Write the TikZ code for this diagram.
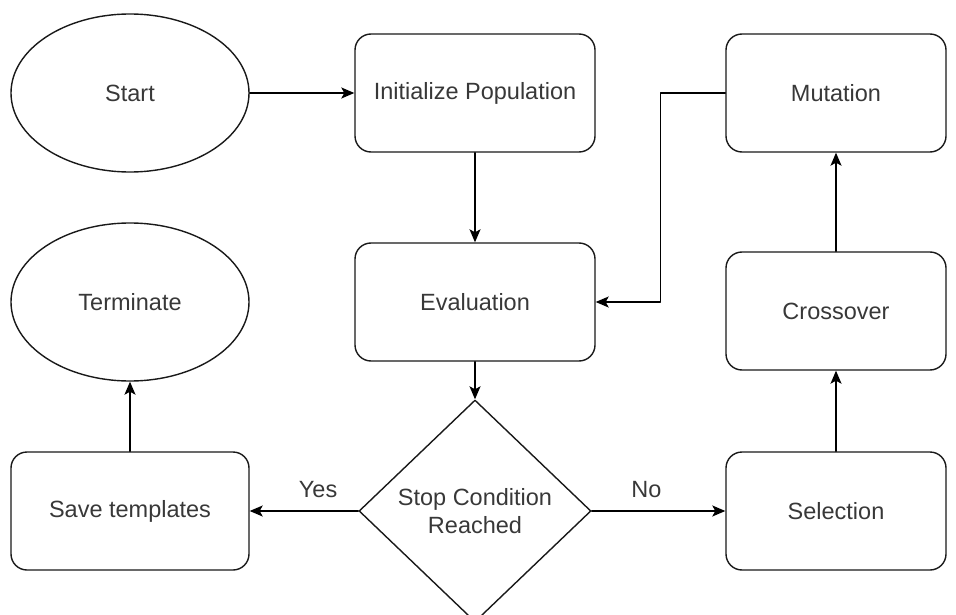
\documentclass[tikz,border=0pt]{standalone}
\usepackage{fontspec}
\setmainfont{Liberation Sans}
\usetikzlibrary{shapes.geometric,arrows.meta}
\begin{document}
\begin{tikzpicture}[x=1pt, y=-1pt, line cap=round, line join=round,
		font=\fontsize{23.5}{28}\selectfont, text=black!78,
		endpoint/.style={ellipse, draw=black!90, line width=1.4pt, minimum width=238pt, minimum height=158pt, inner sep=0pt},
		stage/.style={rectangle, rounded corners=16pt, draw=black!90, line width=1.4pt, minimum height=118pt, inner sep=0pt},
		test/.style={diamond, draw=black!90, line width=1.4pt, minimum width=232pt, minimum height=222pt, inner sep=0pt, align=center},
		flow/.style={draw=black, line width=1.4pt, -{Stealth[length=13pt, width=11pt, inset=3pt]}}]
	\useasboundingbox (0,0) rectangle (956,615);
	\node[endpoint] (start) at (130,93) {Start};
	\node[stage, minimum width=240pt] (init) at (475,93) {Initialize Population};
	\node[stage, minimum width=220pt] (mut) at (836,93) {Mutation};
	\node[endpoint] (term) at (130,302) {Terminate};
	\node[stage, minimum width=240pt] (eval) at (475,302) {Evaluation};
	\node[stage, minimum width=220pt] (cross) at (836,311) {Crossover};
	\node[test] (cond) at (475,511) {Stop Condition\\Reached};
	\node[stage, minimum width=238pt] (save) at (130,511) {Save templates};
	\node[stage, minimum width=220pt] (sel) at (836,511) {Selection};
	\draw[flow] (start) -- (init);
	\draw[flow] (init) -- (eval);
	\draw[flow] (mut.west) -- ++(-65,0) |- (eval.east);
	\draw[flow] (eval) -- (cond);
	\draw[flow] (cond.west) -- node[pos=.37, above=9pt]{Yes} (save.east);
	\draw[flow] (cond.east) -- node[pos=.41, above=9pt]{No} (sel.west);
	\draw[flow] (sel) -- (cross);
	\draw[flow] (cross) -- (mut);
	\draw[flow] (save) -- (term);
\end{tikzpicture}
\end{document}
